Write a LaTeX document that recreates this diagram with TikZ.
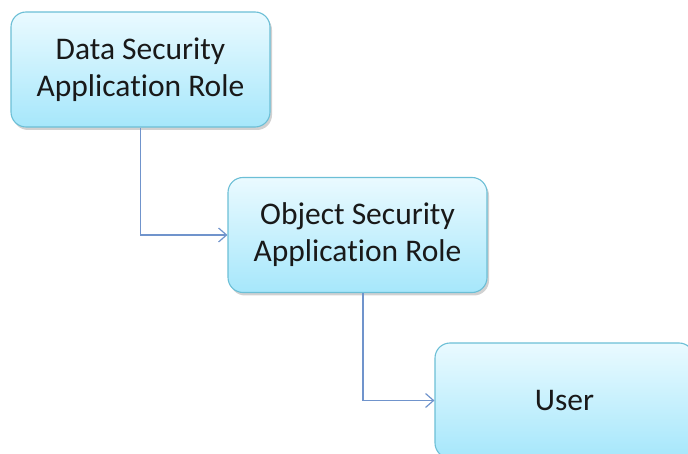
\documentclass[tikz,border=0pt]{standalone}
\usepackage{fontspec}
\setmainfont{Carlito}[Ligatures=NoCommon]
\usetikzlibrary{arrows.meta,shadows}
\definecolor{boxtop}{HTML}{EAFAFF}
\definecolor{boxbot}{HTML}{A6E7FB}
\definecolor{boxedge}{HTML}{6CBFD6}
\definecolor{linkcol}{HTML}{7094CC}
\tikzset{
  rolebox/.style={draw=boxedge, line width=1.1pt, rounded corners=15pt,
    top color=boxtop, bottom color=boxbot,
    minimum width=259pt, minimum height=115pt, align=center,
    font=\fontsize{31.5}{37}\selectfont, text=black!90,
    drop shadow={shadow xshift=2pt, shadow yshift=-3pt, opacity=0.3, fill=black!60}},
  link/.style={draw=linkcol, line width=1.2pt,
    -{Straight Barb[length=8pt,width=14pt]}}
}
\begin{document}
\begin{tikzpicture}[x=1pt,y=-1pt]
  \useasboundingbox (0,0) rectangle (688,454);
  \node[rolebox] (data) at (140.5,69.5) {Data Security\\Application Role};
  \node[rolebox] (obj) at (357.5,235) {Object Security\\Application Role};
  \node[rolebox] (user) at (564.5,400.5) {User};
  \draw[link] (data.south) |- (obj.west);
  \draw[link] ([xshift=5.5pt]obj.south) |- (user.west);
\end{tikzpicture}
\end{document}
